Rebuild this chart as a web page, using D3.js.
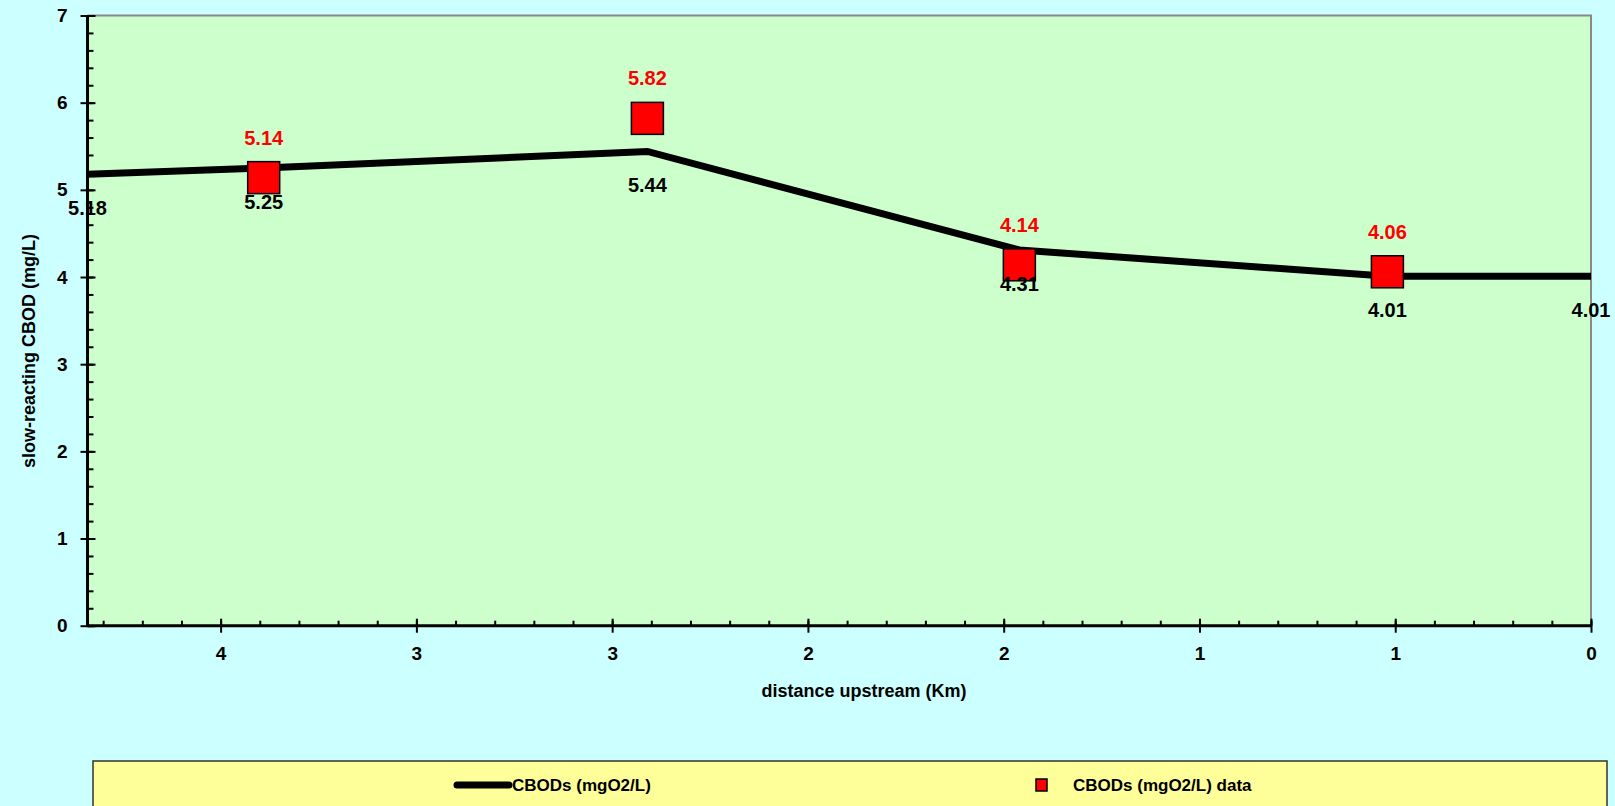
<!DOCTYPE html>
<html>
<head>
<meta charset="utf-8">
<script src="https://cdn.jsdelivr.net/npm/d3@7"></script>
<style>
  body { margin: 0; background: #ccffff; }
  svg text { font-family: "Liberation Sans Narrow", "Arial Narrow", "Liberation Sans", Arial, sans-serif; font-weight: bold; }
</style>
</head>
<body>
<svg id="chart" width="1615" height="806"></svg>
<script>
// model line (distance upstream km, CBODs mg/L)
var lineDist = [3.84, 3.39, 2.41, 1.46, 0.52, 0];
var lineVals = [5.18, 5.25, 5.44, 4.31, 4.01, 4.01];

// measured data
var dataDist = [3.39, 2.41, 1.46, 0.52];
var dataVals = [5.14, 5.82, 4.14, 4.06];

var xTickVals = [3.5, 3, 2.5, 2, 1.5, 1, 0.5, 0];
var xTickLabels = ["4", "3", "3", "2", "2", "1", "1", "0"];
var yTickVals = [0, 1, 2, 3, 4, 5, 6, 7];

var svg = d3.select("#chart");
var plotL = 87.5, plotR = 1591, plotT = 15.5, plotB = 625.7;

var x = d3.scaleLinear().domain([3.84, 0]).range([plotL, plotR]);
var y = d3.scaleLinear().domain([0, 7]).range([plotB, plotT]);

// plot area
svg.append("rect")
    .attr("x", plotL).attr("y", plotT)
    .attr("width", plotR - plotL).attr("height", plotB - plotT)
    .attr("fill", "#ccffcc");
svg.append("path")
    .attr("d", "M" + plotL + "," + plotT + "H" + plotR + "V" + plotB)
    .attr("fill", "none").attr("stroke", "#888").attr("stroke-width", 2);

// x axis minor ticks
svg.append("g")
    .attr("transform", "translate(0," + plotB + ")")
    .call(d3.axisTop(x).tickValues(d3.range(0, 3.85, 0.1)).tickSize(5).tickFormat(""))
    .call(g => g.select(".domain").remove())
    .selectAll("line").attr("stroke", "#000").attr("stroke-width", 2);

// x axis major
var gx = svg.append("g")
    .attr("transform", "translate(0," + plotB + ")")
    .call(d3.axisBottom(x).tickValues(xTickVals).tickSize(7).tickPadding(14)
        .tickFormat((d, i) => xTickLabels[i]));
gx.select(".domain").attr("d", "M" + plotL + ",0H" + plotR).attr("stroke", "#000").attr("stroke-width", 3);
gx.selectAll(".tick line").attr("y1", -7).attr("y2", 7).attr("stroke", "#000").attr("stroke-width", 2);
gx.selectAll(".tick text").attr("font-size", 19).attr("fill", "#000");

// y axis minor ticks
svg.append("g")
    .attr("transform", "translate(" + plotL + ",0)")
    .call(d3.axisRight(y).tickValues(d3.range(0, 7.01, 0.2)).tickSize(6).tickFormat(""))
    .call(g => g.select(".domain").remove())
    .selectAll("line").attr("stroke", "#000").attr("stroke-width", 2);

// y axis major
var gy = svg.append("g")
    .attr("transform", "translate(" + plotL + ",0)")
    .call(d3.axisLeft(y).tickValues(yTickVals).tickSize(7).tickPadding(13).tickFormat(d3.format("d")));
gy.select(".domain").attr("d", "M0," + plotT + "V" + plotB).attr("stroke", "#000").attr("stroke-width", 3);
gy.selectAll(".tick line").attr("x1", -7).attr("x2", 8).attr("stroke", "#000").attr("stroke-width", 2);
gy.selectAll(".tick text").attr("font-size", 19).attr("fill", "#000");

// axis titles
svg.append("text")
    .attr("x", 864).attr("y", 697)
    .attr("text-anchor", "middle").attr("font-size", 18)
    .text("distance upstream (Km)");
svg.append("text")
    .attr("transform", "translate(35,351) rotate(-90)")
    .attr("text-anchor", "middle").attr("font-size", 18)
    .text("slow-reacting CBOD (mg/L)");

// model line
var linePts = lineDist.map((d, i) => ({ d: d, v: lineVals[i] }));
svg.append("path")
    .datum(linePts)
    .attr("d", d3.line().x(p => x(p.d)).y(p => y(p.v)))
    .attr("fill", "none").attr("stroke", "#000").attr("stroke-width", 7);

// data squares
var dataPts = dataDist.map((d, i) => ({ d: d, v: dataVals[i] }));
svg.selectAll("rect.obs")
    .data(dataPts)
    .join("rect")
    .attr("class", "obs")
    .attr("x", p => x(p.d) - 16).attr("y", p => y(p.v) - 16)
    .attr("width", 32).attr("height", 32)
    .attr("fill", "#ff0000").attr("stroke", "#000").attr("stroke-width", 1.5);

// line labels
svg.selectAll("text.linelab")
    .data(linePts)
    .join("text")
    .attr("class", "linelab")
    .attr("x", p => x(p.d)).attr("y", p => y(p.v) + 41)
    .attr("text-anchor", "middle").attr("font-size", 20).attr("fill", "#000")
    .text(p => p.v.toFixed(2));

// data labels
svg.selectAll("text.datalab")
    .data(dataPts)
    .join("text")
    .attr("class", "datalab")
    .attr("x", p => x(p.d)).attr("y", p => y(p.v) - 33)
    .attr("text-anchor", "middle").attr("font-size", 20).attr("fill", "#ff0000")
    .text(p => p.v.toFixed(2));

// legend
svg.append("rect")
    .attr("x", 93).attr("y", 761).attr("width", 1514).attr("height", 60)
    .attr("fill", "#ffff99").attr("stroke", "#333").attr("stroke-width", 1.5);
svg.append("line")
    .attr("x1", 457).attr("x2", 509).attr("y1", 785).attr("y2", 785)
    .attr("stroke", "#000").attr("stroke-width", 7).attr("stroke-linecap", "round");
svg.append("text")
    .attr("x", 512).attr("y", 791).attr("font-size", 17)
    .text("CBODs (mgO2/L)");
svg.append("rect")
    .attr("x", 1036).attr("y", 779).attr("width", 11).attr("height", 12)
    .attr("fill", "#ff0000").attr("stroke", "#000").attr("stroke-width", 1.5);
svg.append("text")
    .attr("x", 1073).attr("y", 791).attr("font-size", 17)
    .text("CBODs (mgO2/L) data");
</script>
</body>
</html>
